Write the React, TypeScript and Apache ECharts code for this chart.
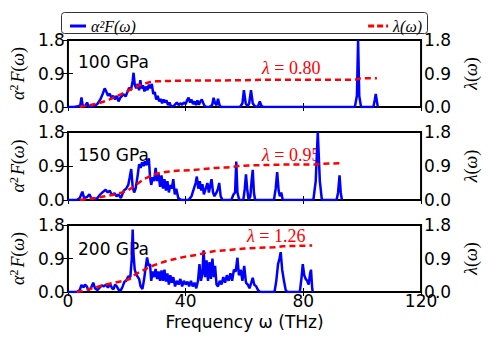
import React, { useEffect, useRef } from "react";
import * as echarts from "echarts";

// ---- data (frequency THz, value) ----
const a2f100: [number, number][] = [
  [0,0],[2,0],[3.5,0.02],[4.2,0.05],[4.6,0.26],[5.0,0.05],[5.8,0.02],[6.5,0.12],[7,0.02],[8,0.01],[9,0.03],[10,0.08],
  [11,0.2],[11.8,0.35],[12.5,0.5],[13,0.42],[13.6,0.3],[14.2,0.36],[14.8,0.24],[15.4,0.3],[16,0.2],[16.6,0.3],
  [17.2,0.15],[17.8,0.25],[18.4,0.3],[19,0.34],[19.6,0.28],[20.2,0.4],[20.8,0.52],[21.4,0.45],[22,0.7],[22.3,0.92],
  [22.7,0.6],[23.2,0.5],[23.7,0.62],[24.2,0.45],[24.6,0.72],[25,0.5],[25.5,0.58],[26,0.42],[26.5,0.55],[27,0.45],
  [27.5,0.6],[28,0.5],[28.5,0.62],[29,0.35],[29.5,0.4],[30,0.2],[30.5,0.3],[31,0.15],[31.5,0.22],[32,0.1],[32.5,0.2],
  [33,0.12],[33.5,0.18],[34,0.05],[34.5,0.12],[35,0.02],[36,0.03],[37,0.12],[37.6,0.05],[38.2,0.1],[38.8,0.06],
  [39.4,0.12],[40,0.08],[40.6,0.2],[41,0.25],[41.5,0.12],[42,0.2],[42.5,0.08],[43,0.15],[43.5,0.05],[44,0.18],
  [44.5,0.06],[45,0.15],[45.5,0.2],[46,0.1],[46.5,0.02],[47,0.01],[48,0],[49,0.05],[49.5,0.25],[50,0.1],[50.5,0.05],
  [51,0.22],[51.5,0.05],[52,0],[58.5,0],[59.3,0.1],[59.8,0.45],[60.4,0.1],[61,0.02],[61.6,0.1],[62.2,0.45],[62.8,0.1],
  [63.5,0.02],[64.5,0],[65.2,0.15],[65.8,0.02],[66.5,0],[97.5,0],[98.2,0.3],[98.6,1.8],[99,0.3],[99.6,0],
  [103.8,0],[104.3,0.2],[104.6,0.35],[105,0.15],[105.3,0]
];
const lambda100: [number, number][] = [
  [4,0],[6,0.03],[8,0.06],[10,0.09],[12,0.14],[14,0.2],[16,0.27],[18,0.34],[20,0.42],[22,0.5],[24,0.57],[26,0.63],
  [28,0.67],[30,0.69],[35,0.7],[40,0.71],[50,0.71],[60,0.72],[66,0.73],[80,0.73],[95,0.73],[98,0.74],[99.5,0.77],[105,0.77]
];

const a2f150: [number, number][] = [
  [0,0],[3,0],[4,0.05],[4.9,0.22],[5.5,0.05],[6.5,0.08],[7.3,0.15],[8,0.04],[9,0.02],[10,0.05],[11,0.15],[12,0.22],
  [12.8,0.27],[13.5,0.2],[14.2,0.25],[15,0.12],[15.8,0.18],[16.5,0.1],[17.2,0.15],[18,0.05],[19,0.25],[19.8,0.3],
  [20.5,0.4],[21,0.6],[21.5,0.82],[22,0.35],[22.5,0.2],[23,0.3],[23.6,0.6],[24.2,0.95],[24.7,0.85],[25.2,1.0],
  [25.7,0.9],[26.2,1.02],[26.7,0.92],[27.2,1.05],[27.5,1.1],[27.9,0.6],[28.3,0.4],[28.8,0.6],[29.3,0.5],[29.8,0.85],
  [30.3,0.5],[30.8,0.7],[31.3,0.35],[31.8,0.65],[32.3,0.3],[32.8,0.55],[33.3,0.25],[33.8,0.5],[34.3,0.2],[34.8,0.4],
  [35.3,0.3],[35.8,0.55],[36.3,0.15],[36.8,0.3],[37.5,0.05],[38.5,0],[41,0],[42,0.1],[42.8,0.3],[43.4,0.45],
  [43.8,0.62],[44.3,0.3],[44.8,0.5],[45.3,0.25],[45.7,0.42],[46.2,0.15],[46.8,0.3],[47.4,0.45],[47.9,0.2],[48.4,0.4],
  [48.8,0.55],[49.3,0.2],[49.8,0.1],[50.5,0.2],[51,0.3],[51.4,0.45],[51.9,0.1],[52.5,0],[55.5,0],[56.3,0.15],
  [56.8,0.2],[57.2,1.02],[57.6,0.2],[58.2,0],[59.6,0],[60.1,0.3],[60.5,0.68],[60.9,0.3],[61.4,0],[62,0.1],[62.4,0.5],
  [62.8,0.8],[63.2,0.2],[63.6,0],[70,0],[70.6,0.3],[71.1,0.74],[71.6,0.25],[72,0.1],[72.5,0.2],[73,0],[83.4,0],
  [84.2,0.5],[84.9,1.8],[85.6,0.5],[86.3,0],[91.3,0],[91.8,0.2],[92.3,0.65],[92.7,0.2],[93.1,0]
];
const lambda150: [number, number][] = [
  [4,0],[6,0.02],[8,0.04],[10,0.06],[12,0.09],[14,0.12],[16,0.15],[18,0.19],[20,0.24],[22,0.33],[24,0.45],[26,0.56],
  [28,0.63],[30,0.69],[32,0.73],[35,0.76],[38,0.78],[42,0.79],[46,0.82],[50,0.85],[54,0.86],[58,0.9],[63,0.92],
  [70,0.93],[75,0.94],[84,0.94],[86,0.96],[92.5,0.97]
];

const a2f200: [number, number][] = [
  [0,0],[3,0],[4,0.05],[4.6,0.19],[5.3,0.12],[5.8,0.2],[6.4,0.15],[7,0.05],[7.8,0.1],[8.6,0.25],[9.2,0.1],[10,0.05],
  [10.8,0.12],[11.5,0.18],[12.2,0.15],[12.9,0.2],[13.6,0.12],[14.3,0.22],[15,0.1],[15.5,0.08],[16,0.2],[16.6,0.15],
  [17.3,0.05],[18,0.05],[18.6,0.15],[19.2,0.28],[19.8,0.3],[20.5,0.42],[21.2,0.4],[21.7,0.9],[22,1.68],[22.3,1.0],
  [22.7,0.6],[23.1,0.5],[23.6,0.42],[24.2,0.35],[24.7,0.15],[25.3,0.08],[25.8,0.3],[26.4,0.65],[26.9,0.93],
  [27.4,0.7],[27.9,0.75],[28.3,0.3],[28.8,0.55],[29.3,0.4],[29.8,0.62],[30.3,0.35],[30.8,0.55],[31.3,0.3],
  [31.8,0.58],[32.3,0.3],[32.8,0.6],[33.3,0.28],[33.8,0.5],[34.3,0.2],[34.8,0.45],[35.3,0.25],[35.8,0.4],[36.4,0.15],
  [37,0.3],[37.6,0.2],[38.2,0.35],[38.8,0.15],[39.4,0.3],[40,0.2],[40.6,0.28],[41.2,0.15],[41.8,0.3],[42.4,0.15],
  [43,0.25],[43.6,0.1],[44.2,0.3],[44.7,0.75],[45.2,0.3],[45.7,0.5],[46.1,1.12],[46.6,0.4],[47.1,0.85],[47.6,0.3],
  [48.1,0.8],[48.6,0.35],[49.1,0.9],[49.6,0.4],[50,0.7],[50.5,0.2],[51,0.15],[51.6,0.3],[52.2,0.2],[52.8,0.4],
  [53.4,0.25],[54,0.45],[54.6,0.3],[55.2,0.5],[55.8,0.3],[56.4,0.6],[57,0.55],[57.6,0.92],[58.1,0.45],[58.7,0.6],
  [59.3,0.3],[59.9,0.7],[60.5,0.25],[61.1,0.2],[61.7,0.1],[62.3,0.25],[62.8,0.38],[63.3,0.2],[64,0.15],[64.6,0.05],
  [65.3,0],[70.2,0],[70.8,0.3],[71.4,0.75],[71.9,0.9],[72.3,1.07],[72.8,0.6],[73.4,0.3],[74,0.05],[74.6,0],
  [78.8,0],[79.4,0.4],[79.8,0.75],[80.3,0.45],[80.8,0.35],[81.3,0.3],[81.8,0.2],[82.3,0.5],[82.6,0.6],[83,0.1],[83.2,0]
];
const lambda200: [number, number][] = [
  [3,0],[5,0.03],[7,0.07],[9,0.12],[11,0.16],[13,0.2],[15,0.24],[17,0.27],[19,0.3],[21,0.35],[22.5,0.45],[24,0.52],
  [26,0.6],[28,0.68],[30,0.74],[33,0.82],[36,0.88],[40,0.95],[44,1.0],[47,1.06],[50,1.1],[55,1.13],[60,1.17],
  [65,1.19],[70,1.2],[73,1.23],[78,1.24],[83,1.25]
];

const pressures = ["100 GPa", "150 GPa", "200 GPa"];
const lambdaTotals = ["0.80", "0.95", "1.26"];
const xTicks = [0, 40, 80, 120];
const yTicks = [0, 0.9, 1.8];

const A2F_NAME = "α²F(ω)";
const LAMBDA_NAME = "λ(ω)";

export default function App() {
  const ref = useRef<HTMLDivElement>(null);
  useEffect(() => {
    if (!ref.current) return;
    const chart = echarts.init(ref.current, undefined, { renderer: "svg" });
    const a2fSets = [a2f100, a2f150, a2f200];
    const lamSets = [lambda100, lambda150, lambda200];
    const grids = [
      { left: 61, width: 367, top: 40, height: 67 },
      { left: 61, width: 367, top: 132, height: 68 },
      { left: 61, width: 367, top: 225, height: 67 },
    ];
    const sans = "DejaVu Sans";
    const serif = "Liberation Serif";
    const xAxis: any[] = [];
    const yAxis: any[] = [];
    const series: any[] = [];
    const graphic: any[] = [];
    grids.forEach((g, i) => {
      const last = i === 2;
      xAxis.push({
        type: "value", gridIndex: i, min: xTicks[0], max: xTicks[xTicks.length - 1], interval: 40,
        position: "bottom",
        axisLine: { show: false },
        axisTick: { show: true, inside: true, length: 4, lineStyle: { color: "#000", width: 1 } },
        axisLabel: { show: last, fontSize: 17, color: "#000", fontFamily: sans, margin: 0 },
        splitLine: { show: false },
        name: last ? "Frequency ω (THz)" : "",
        nameLocation: "middle", nameGap: 21,
        nameTextStyle: { fontSize: 17, color: "#000", fontFamily: sans },
      });
      xAxis.push({
        type: "value", gridIndex: i, min: 0, max: 120, interval: 40, position: "top",
        axisLine: { show: false },
        axisTick: { show: true, inside: true, length: 4, lineStyle: { color: "#000", width: 1 } },
        axisLabel: { show: false }, splitLine: { show: false },
      });
      const yCommon = {
        type: "value", gridIndex: i, min: yTicks[0], max: yTicks[2], interval: 0.9,
        axisLine: { show: false },
        axisTick: { show: true, inside: true, length: 5, lineStyle: { color: "#000", width: 1 } },
        axisLabel: { fontSize: 17, color: "#000", fontFamily: sans, formatter: (v: number) => v.toFixed(1) },
        splitLine: { show: false },
        nameLocation: "middle", nameRotate: 90,
      };
      yAxis.push({
        ...yCommon, position: "left",
        axisLabel: { ...yCommon.axisLabel, margin: 3 },
        name: "{a|α}{s|2}{a|F}{b|(}{a|ω}{b|)}", nameGap: 30,
        nameTextStyle: {
          color: "#000",
          rich: {
            a: { fontFamily: serif, fontStyle: "italic", fontSize: 18, color: "#000" },
            b: { fontFamily: serif, fontSize: 18, color: "#000" },
            s: { fontFamily: serif, fontSize: 12, color: "#000", verticalAlign: "top", padding: [0, 2, 8, 0] },
          },
        },
      });
      yAxis.push({
        ...yCommon, position: "right",
        axisLabel: { ...yCommon.axisLabel, margin: 3 },
        name: "{a|λ}{b|(}{a|ω}{b|)}", nameGap: 30,
        nameTextStyle: {
          color: "#000",
          rich: {
            a: { fontFamily: serif, fontStyle: "italic", fontSize: 18, color: "#000" },
            b: { fontFamily: serif, fontSize: 18, color: "#000" },
          },
        },
      });
      series.push({
        name: A2F_NAME, type: "line", xAxisIndex: 2 * i, yAxisIndex: 2 * i,
        data: a2fSets[i], symbol: "none", showSymbol: false,
        lineStyle: { color: "#0000ff", width: 2.5 }, itemStyle: { color: "#0000ff" }, z: 2,
      });
      series.push({
        name: LAMBDA_NAME, type: "line", xAxisIndex: 2 * i, yAxisIndex: 2 * i + 1,
        data: lamSets[i], symbol: "none", showSymbol: false,
        lineStyle: { color: "#ff0000", width: 2.5, type: [6, 4] }, itemStyle: { color: "#ff0000" }, z: 3,
      });
    });

    const labelPos = [
      { y: 63, ly: 69, lx: 262 },
      { y: 156, ly: 156, lx: 262 },
      { y: 250, ly: 237, lx: 247 },
    ];
    labelPos.forEach((p, i) => {
      graphic.push({
        type: "text", left: 78, top: p.y - 10,
        style: { text: pressures[i], fontSize: 17, fontFamily: sans, fill: "#000" },
      });
      graphic.push({
        type: "text", left: p.lx, top: p.ly - 10,
        style: {
          text: `{i|λ}{n| = ${lambdaTotals[i]}}`,
          rich: {
            i: { fontFamily: serif, fontStyle: "italic", fontSize: 18, fill: "#ff0000", color: "#ff0000" },
            n: { fontFamily: serif, fontSize: 18, fill: "#ff0000", color: "#ff0000" },
          },
          fill: "#ff0000",
        },
      });
    });
    graphic.push({
      type: "rect", z: -1,
      shape: { x: 61.5, y: 12.5, width: 366, height: 21, r: 3 },
      style: { fill: "#fff", stroke: "#333", lineWidth: 1 },
    });

    chart.setOption({
      animation: false,
      grid: grids.map((g) => ({ ...g, show: true, borderColor: "#000", borderWidth: 2, backgroundColor: "transparent" })),
      legend: [
        {
          data: [A2F_NAME], left: 65, top: 13, selectedMode: false, itemWidth: 16, itemHeight: 3, itemGap: 8,
          icon: "rect",
          textStyle: { fontFamily: serif, fontStyle: "italic", fontSize: 16, color: "#000" },
        },
        {
          data: [LAMBDA_NAME], right: 61, top: 13, selectedMode: false, itemWidth: 20, itemHeight: 3,
          icon: "path://M0,0H6V3H0Z M9,0H15V3H9Z M18,0H20V3H18Z",
          textStyle: { fontFamily: serif, fontStyle: "italic", fontSize: 16, color: "#000" },
        },
      ],
      xAxis, yAxis, series, graphic,
    });
    return () => chart.dispose();
  }, []);
  return <div ref={ref} style={{ position: "absolute", left: 0, top: 0, width: 488, height: 342 }} />;
}
